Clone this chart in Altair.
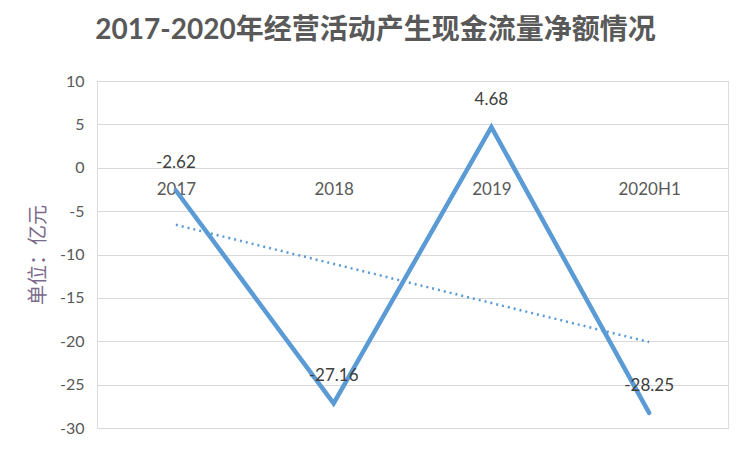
import altair as alt
import pandas as pd

categories = ["2017", "2018", "2019", "2020H1"]
values = [-2.62, -27.16, 4.68, -28.25]
positions = [1, 2, 3, 4]
y_ticks = [-30, -25, -20, -15, -10, -5, 0, 5, 10]
labels = ["-2.62", "-27.16", "4.68", "-28.25"]

df = pd.DataFrame({"idx": positions, "cat": categories, "v": values, "lab": labels})

label_expr = "[" + ",".join(f"'{c}'" for c in categories) + "][datum.value - 1]"

FONT = "Lato, 'Noto Sans CJK SC', sans-serif"
TXT = "#595959"
BLUE = "#5B9BD5"

W, H = 631, 347

x = alt.X(
    "idx:Q",
    scale=alt.Scale(domain=[0.5, 4.5], nice=False, zero=False),
    axis=alt.Axis(
        values=positions, labelExpr=label_expr, offset=-H * 30 / 40,
        domain=False, ticks=False, grid=False, labelPadding=14,
        labelFontSize=17, labelColor=TXT, labelFont=FONT, title=None,
    ),
)
y = alt.Y(
    "v:Q",
    scale=alt.Scale(domain=[-30, 10], nice=False, zero=False),
    axis=alt.Axis(
        values=y_ticks, domain=False, ticks=False, grid=True,
        gridColor="#D9D9D9", gridWidth=1.2, labelPadding=13,
        labelFontSize=16, labelColor=TXT, labelFont=FONT,
        labelExpr="replace(datum.label, '\u2212', '-')",
        title="单位：亿元", titleFontSize=20, titleColor="#7B6A8C",
        titleFontWeight="normal", titleFont=FONT, titleX=-59,
        titleBaseline="middle", titleAngle=270,
    ),
)

base = alt.Chart(df)

line = base.mark_line(color=BLUE, strokeWidth=4.5, strokeCap="round", strokeJoin="miter").encode(x=x, y=y)

trend = base.transform_regression("idx", "v", method="linear").mark_line(
    color=BLUE, strokeWidth=2.5, strokeDash=[2, 4]
).encode(x=x, y=y)

text = base.mark_text(dy=-27, fontSize=17, color="#404040", font=FONT).encode(
    x=x, y=y, text="lab:N"
)

chart = (
    alt.layer(trend, line, text)
    .properties(
        width=W,
        height=H,
        autosize=alt.AutoSizeParams(type="none"),
        padding={"left": 89, "top": 73, "right": 16, "bottom": 16},
        title=alt.TitleParams(
            "2017-2020年经营活动产生现金流量净额情况",
            font=FONT, fontSize=28, fontWeight="bold", color=TXT,
            anchor="middle", dx=-37, offset=28,
        ),
    )
    .configure_view(stroke=None)
    .configure(background="white")
)

chart.save("out.html", embed_options={"renderer": "svg", "actions": False})
